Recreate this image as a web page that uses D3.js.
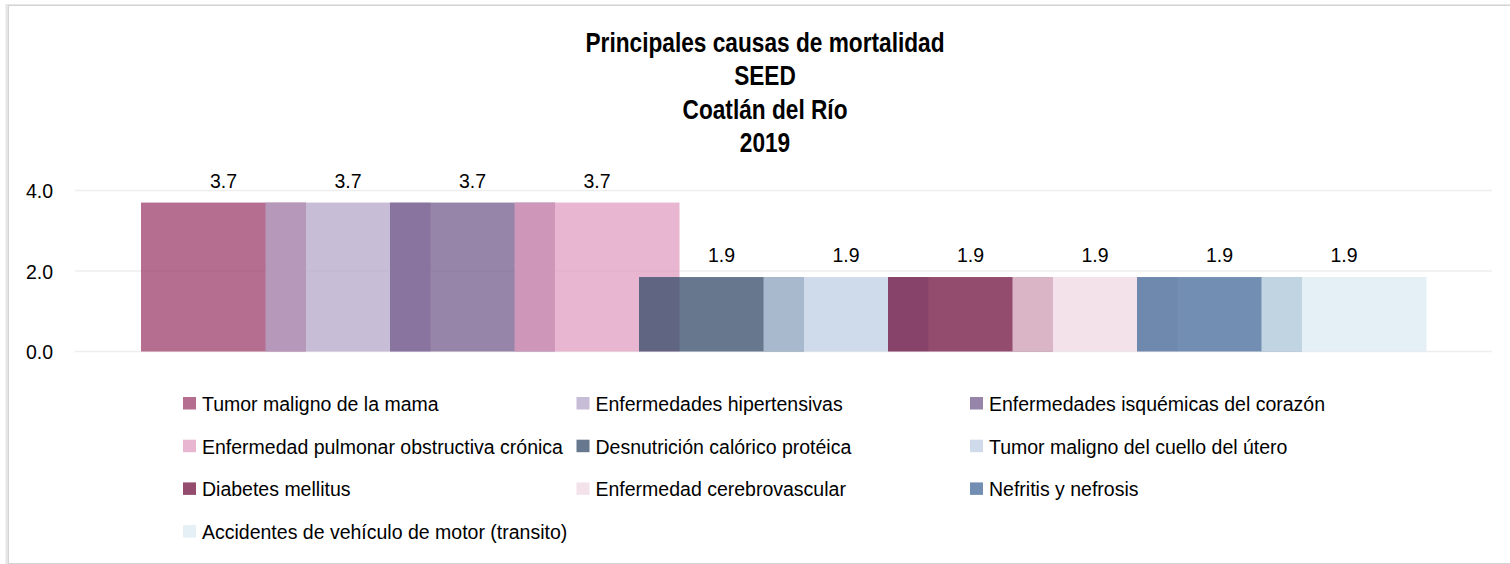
<!DOCTYPE html>
<html>
<head>
<meta charset="utf-8">
<script src="https://cdn.jsdelivr.net/npm/d3@7"></script>
<style>
  body { margin: 0; background: #fff; }
  svg text { font-family: "Liberation Sans", Arial, sans-serif; fill: #000; }
</style>
</head>
<body>
<div id="chart"></div>
<script>
// principales causas de mortalidad - Coatlan del Rio 2019
var titleLines = ["Principales causas de mortalidad", "SEED", "Coatlán del Río", "2019"];

var causes = [
  "Tumor maligno de la mama",
  "Enfermedades hipertensivas",
  "Enfermedades isquémicas del corazón",
  "Enfermedad pulmonar obstructiva crónica",
  "Desnutrición calórico protéica",
  "Tumor maligno del cuello del útero",
  "Diabetes mellitus",
  "Enfermedad cerebrovascular",
  "Nefritis y nefrosis",
  "Accidentes de vehículo de motor (transito)"
];
var rates = [3.7, 3.7, 3.7, 3.7, 1.85, 1.85, 1.85, 1.85, 1.85, 1.85];
var yTicks = [0, 2, 4];

// bars are semi transparent, so these are the base fills
var colors = ["#9e3e6b", "#b6a7ca", "#735c8b", "#e09ec0", "#334a68",
              "#bfcfe3", "#6f103e", "#f0d8e4", "#436a9a", "#dbebf2"];

var width = 1510, height = 564;
var plotLeft = 75, plotRight = 1492;

var svg = d3.select("#chart")
  .append("svg")
  .attr("width", width)
  .attr("height", height);

// chart border
svg.append("rect")
  .attr("x", 7)
  .attr("y", 5.5)
  .attr("width", width)
  .attr("height", height - 5)
  .attr("fill", "none")
  .attr("stroke", "#e6e6e6")
  .attr("stroke-width", 3);
svg.append("rect")
  .attr("x", 8.5)
  .attr("y", 5.5)
  .attr("width", width)
  .attr("height", height - 6)
  .attr("fill", "#fff")
  .attr("stroke", "#d4d4d4")
  .attr("stroke-width", 1);

// title, narrow bold
svg.append("g")
  .attr("transform", "translate(765,0) scale(0.84,1)")
  .selectAll("text")
  .data(titleLines)
  .enter()
  .append("text")
  .attr("x", 0)
  .attr("y", (d, i) => 52 + i * 33.3)
  .attr("text-anchor", "middle")
  .style("font-size", "27px")
  .style("font-weight", "bold")
  .text(d => d);

var x = d3.scaleBand()
  .domain(causes)
  .range([141, 1386])
  .paddingInner(0)
  .paddingOuter(0);
var barW = x.step() + 40.5;

var y = d3.scaleLinear()
  .domain([0, 4])
  .range([351.5, 190.5]);

// gridlines
svg.append("g")
  .selectAll("line")
  .data(yTicks)
  .enter()
  .append("line")
  .attr("x1", plotLeft)
  .attr("x2", plotRight)
  .attr("y1", d => y(d))
  .attr("y2", d => y(d))
  .attr("stroke", "#eeeeee")
  .attr("stroke-width", 1.5);

var yAxis = svg.append("g")
  .attr("transform", "translate(" + (plotLeft - 22) + ",0)")
  .call(d3.axisLeft(y).tickValues(yTicks).tickFormat(d3.format(".1f")).tickSize(0).tickPadding(0));
yAxis.select(".domain").remove();
yAxis.selectAll("text")
  .style("font-size", "19.5px")
  .style("font-family", "\"Liberation Sans\", Arial, sans-serif")
  .attr("fill", "#000")
  .attr("dy", "0.36em");

var bars = svg.append("g")
  .selectAll("rect")
  .data(rates)
  .enter()
  .append("rect")
  .attr("x", (d, i) => x(causes[i]))
  .attr("y", d => y(d))
  .attr("width", barW)
  .attr("height", d => y(0) - y(d))
  .attr("fill", (d, i) => colors[i])
  .attr("fill-opacity", 0.75);

svg.append("g")
  .selectAll("text")
  .data(rates)
  .enter()
  .append("text")
  .attr("x", (d, i) => x(causes[i]) + barW / 2)
  .attr("y", d => y(d) - 15)
  .attr("text-anchor", "middle")
  .style("font-size", "19.5px")
  .text(d => d3.format(".1f")(d));

// legend, 3 columns
var legend = svg.append("g")
  .selectAll("g")
  .data(causes)
  .enter()
  .append("g")
  .attr("transform", (d, i) => "translate(" + (183 + (i % 3) * 393.5) + "," + (397 + Math.floor(i / 3) * 42.7) + ")");

legend.append("rect")
  .attr("width", 13)
  .attr("height", 12.5)
  .attr("fill", (d, i) => colors[i])
  .attr("fill-opacity", 0.75);

legend.append("text")
  .attr("x", 19)
  .attr("y", 14)
  .style("font-size", "19.5px")
  .text(d => d);
</script>
</body>
</html>
